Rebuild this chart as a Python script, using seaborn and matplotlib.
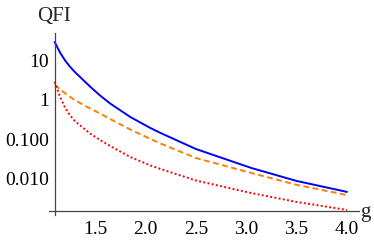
import numpy as np
import pandas as pd
import matplotlib
matplotlib.use("Agg")
import matplotlib.pyplot as plt
import seaborn as sns
from matplotlib.ticker import FixedLocator, NullFormatter, LogLocator

# ---- data ----
g = [1.10, 1.15, 1.20, 1.25, 1.30, 1.45, 1.55, 1.65, 1.85, 2.05, 2.15, 2.50, 3.05, 3.50, 4.00]
qfi_blue = [29.4, 16.4, 10.3, 7.05, 5.11, 2.20, 1.30, 0.815, 0.371, 0.195, 0.146, 0.0575, 0.019, 0.0089, 0.0047]
qfi_orange = [2.40, 1.90, 1.50, 1.21, 0.99, 0.609, 0.455, 0.330, 0.179, 0.103, 0.079, 0.034, 0.0142, 0.0071, 0.0039]
qfi_red = [2.90, 1.26, 0.665, 0.417, 0.294, 0.142, 0.097, 0.0685, 0.036, 0.022, 0.0179, 0.00916, 0.0044, 0.00262, 0.00164]

x_ticks = [1.5, 2.0, 2.5, 3.0, 3.5, 4.0]
x_tick_labels = ["1.5", "2.0", "2.5", "3.0", "3.5", "4.0"]
y_ticks = [0.01, 0.1, 1, 10]
y_tick_labels = ["0.010", "0.100", "1", "10"]

sns.set_style("white")
plt.rcParams['font.family'] = ['Liberation Serif', 'DejaVu Serif']

fig = plt.figure(figsize=(3.74, 2.41), dpi=100)
ax = fig.add_axes([0.130, 0.1066, 0.830, 0.757])

df = pd.DataFrame({"g": g, "blue": qfi_blue, "orange": qfi_orange, "red": qfi_red})
sns.lineplot(data=df, x="g", y="blue", ax=ax, color=(0, 0, 1), lw=1.4)
sns.lineplot(data=df, x="g", y="orange", ax=ax, color=(1, 0.5, 0), lw=1.4, linestyle=(0, (3, 1.8)))
sns.lineplot(data=df, x="g", y="red", ax=ax, color=(1, 0, 0), lw=1.4, linestyle=(0, (1, 1.2)))

ax.set_yscale("log")
ax.set_xlim(1.04, 4.12)
ax.set_ylim(0.0012, 50)

axis_col = "#444444"
for s in ["top", "right"]:
    ax.spines[s].set_visible(False)
ax.spines["left"].set_position(("data", 1.1))
ax.spines["bottom"].set_position(("data", 0.00155))
for s in ["left", "bottom"]:
    ax.spines[s].set_color(axis_col)
    ax.spines[s].set_linewidth(0.9)

ax.set_xticks(x_ticks)
ax.set_xticklabels(x_tick_labels)
ax.xaxis.set_minor_locator(FixedLocator(list(np.arange(1.1, 4.05, 0.1))))
ax.set_yticks(y_ticks)
ax.set_yticklabels(y_tick_labels)
ax.yaxis.set_minor_locator(LogLocator(base=10, subs=np.arange(2, 10)))
ax.yaxis.set_minor_formatter(NullFormatter())

ax.tick_params(axis="both", which="major", direction="in", length=4, width=0.8,
               color=axis_col, labelsize=14, labelcolor="black")
ax.tick_params(axis="both", which="minor", direction="in", length=2.2, width=0.6, color=axis_col)
ax.tick_params(axis="x", which="major", pad=7)
ax.tick_params(axis="y", which="major", pad=4)

ax.set_xlabel("")
ax.set_ylabel("")
ax.grid(False)

fig.text(37 / 374, 1 - 21 / 241, "QFI", fontsize=15, ha="left", va="baseline")
fig.text(360 / 374, 1 - 217 / 241, "g", fontsize=15, ha="left", va="baseline")

fig.savefig("out.png", dpi=100)
